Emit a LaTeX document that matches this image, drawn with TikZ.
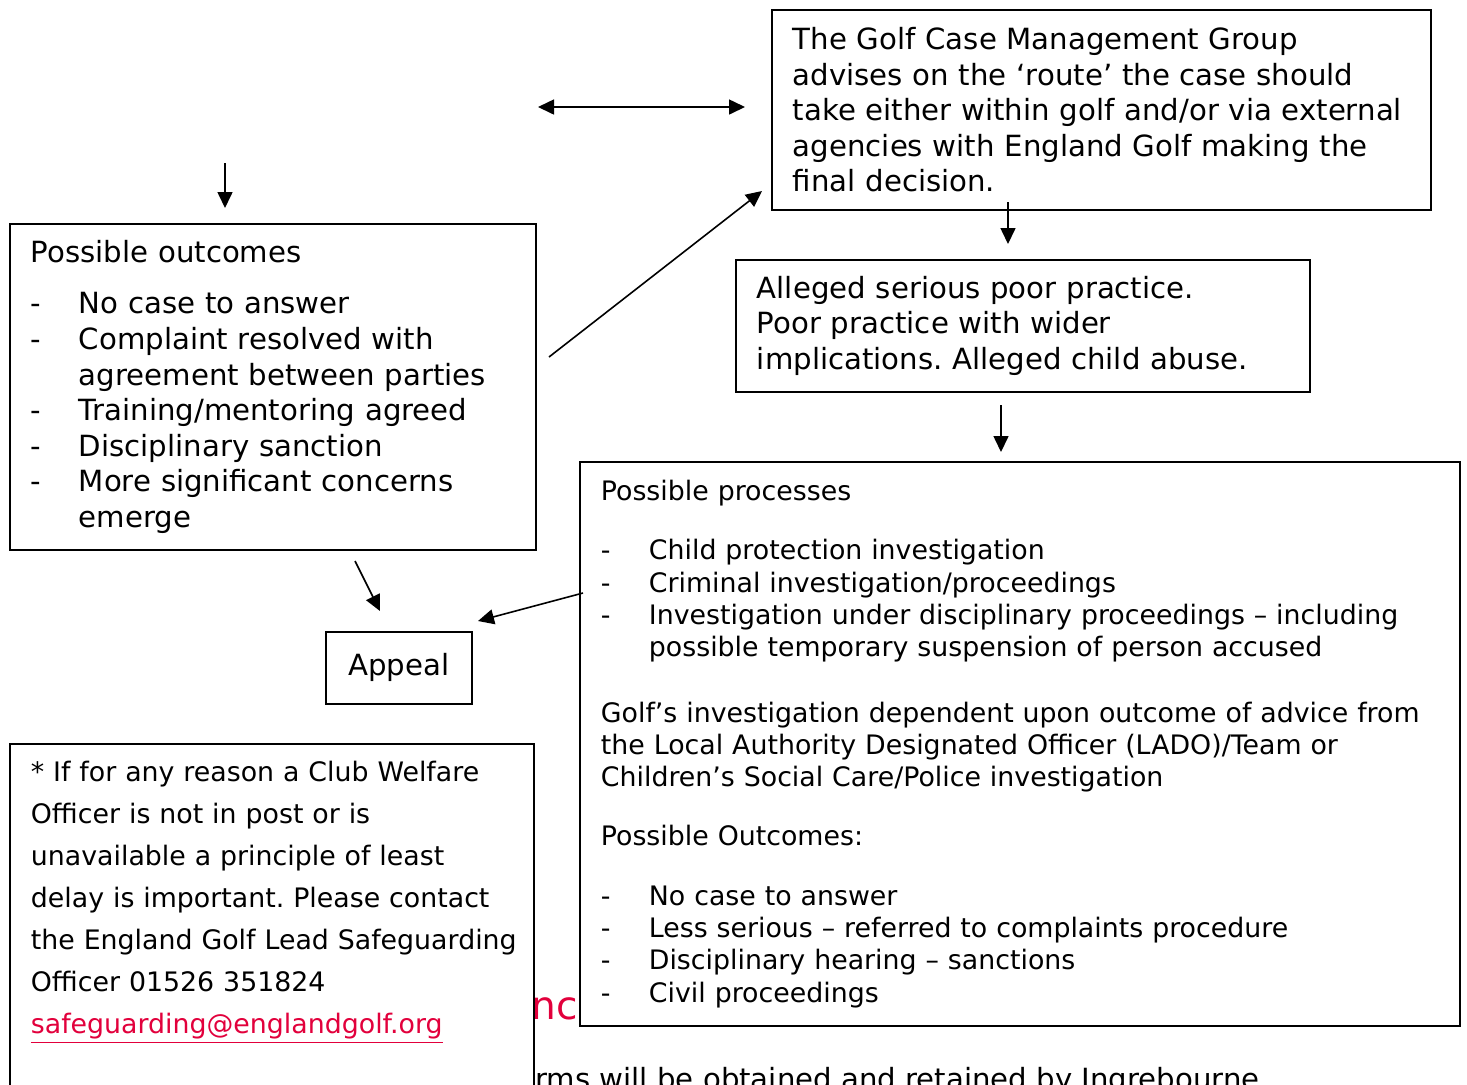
\documentclass[tikz,border=0pt]{standalone}
\usepackage{fontspec}
\setmainfont{DejaVu Sans}
\usepackage{xcolor}
\usepackage{tikz}
\usetikzlibrary{arrows.meta, positioning}
\definecolor{linkred}{HTML}{E2003C}
\frenchspacing

\newcommand{\bigtext}{\fontsize{14.6}{17.8}\selectfont}
\newcommand{\smalltext}{\fontsize{13.4}{16.15}\selectfont}
\newcommand{\dashitem}{\makebox[24pt][l]{-}}
\newcommand{\hangon}{\hspace*{24pt}}

\begin{document}
\begin{tikzpicture}[
  x=0.5pt, y=-0.5pt,
  box/.style={rectangle, draw=black, line width=0.9pt, fill=white, anchor=north west, align=left, inner xsep=10.5pt, inner ysep=0pt},
  arrow/.style={-{Triangle[length=8pt, width=7.5pt]}, line width=0.8pt, black},
  twoway/.style={{Triangle[length=8pt, width=7.5pt]}-{Triangle[length=8pt, width=7.5pt]}, line width=0.8pt, black}
]
  \useasboundingbox (0,0) rectangle (1467,1084);
  \clip (0,0) rectangle (1467,1084);

  % text of the page that shows behind the boxes
  \node[anchor=base west, inner sep=0pt, text=linkred, font=\fontsize{19.5}{23}\selectfont] (redbit) at (531,1019) {nc};
  \node[anchor=base west, inner sep=0pt, font=\bigtext] (pagetail) at (535,1089) {rms will be obtained and retained by Ingrebourne};

  \node[box, font=\bigtext, text width=308.5pt, minimum height=100pt] (cmg) at (771,9)
    {The Golf Case Management Group\\advises on the `route' the case should\\take either within golf and/or via external\\agencies with England Golf making the\\final decision.};
  \node[box, font=\bigtext, text width=266pt, minimum height=66pt] (alleged) at (735,259)
    {Alleged serious poor practice.\\Poor practice with wider\\implications. Alleged child abuse.};
  \node[box, font=\bigtext, text width=242pt, minimum height=163pt] (outcomes) at (9,223)
    {Possible outcomes\\[8pt]
     \dashitem No case to answer\\
     \dashitem Complaint resolved with\\
     \hangon agreement between parties\\
     \dashitem Training/mentoring agreed\\
     \dashitem Disciplinary sanction\\
     \dashitem More significant concerns\\
     \hangon emerge};
  \node[box, font=\bigtext, align=center, inner xsep=0pt, minimum width=73pt, minimum height=36pt] (appeal) at (325,631) {\raisebox{1.5pt}{Appeal}};
  \node[box, font=\smalltext, text width=419pt, minimum height=282pt] (processes) at (579,461)
    {Possible processes\\[13.5pt]
     \dashitem Child protection investigation\\
     \dashitem Criminal investigation/proceedings\\
     \dashitem Investigation under disciplinary proceedings -- including\\
     \hangon possible temporary suspension of person accused\\[16.5pt]
     Golf's investigation dependent upon outcome of advice from\\
     the Local Authority Designated Officer (LADO)/Team or\\
     Children's Social Care/Police investigation\\[13.5pt]
     Possible Outcomes:\\[13.5pt]
     \dashitem No case to answer\\
     \dashitem Less serious -- referred to complaints procedure\\
     \dashitem Disciplinary hearing -- sanctions\\
     \dashitem Civil proceedings};
  \node[box, font=\fontsize{13.4}{21}\selectfont, text width=241pt, inner ysep=8.8pt] (welfare) at (9,743)
    {\mbox{* If for any reason a Club Welfare}\\
     \mbox{Officer is not in post or is}\\
     \mbox{unavailable a principle of least}\\
     \mbox{delay is important. Please contact}\\
     \mbox{the England Golf Lead Safeguarding}\\
     \mbox{Officer 01526 351824}\\
     \textcolor{linkred}{\underline{safeguarding@englandgolf.org}}\\
     \strut};

  % arrow ends
  \coordinate (linkleft) at (538,107);
  \coordinate (linkright) at (745,107);
  \coordinate (downfrom) at (225,163);
  \coordinate (downto) at (225,208);
  \coordinate (outout) at (549,357);
  \coordinate (cmgin) at (762,191);
  \coordinate (cmgout) at (1008,202);
  \coordinate (allegedin) at (1008,244);
  \coordinate (allegedout) at (1001,405);
  \coordinate (processin) at (1001,452);
  \coordinate (outdown) at (355,561);
  \coordinate (appealtop) at (380,611);
  \coordinate (processout) at (583,593);
  \coordinate (appealright) at (478,621);

  \draw[twoway] (linkleft) -- (linkright);
  \draw[arrow] (downfrom) -- (downto);
  \draw[arrow] (outout) -- (cmgin);
  \draw[arrow] (cmgout) -- (allegedin);
  \draw[arrow] (allegedout) -- (processin);
  \draw[arrow] (outdown) -- (appealtop);
  \draw[arrow] (processout) -- (appealright);
\end{tikzpicture}
\end{document}
